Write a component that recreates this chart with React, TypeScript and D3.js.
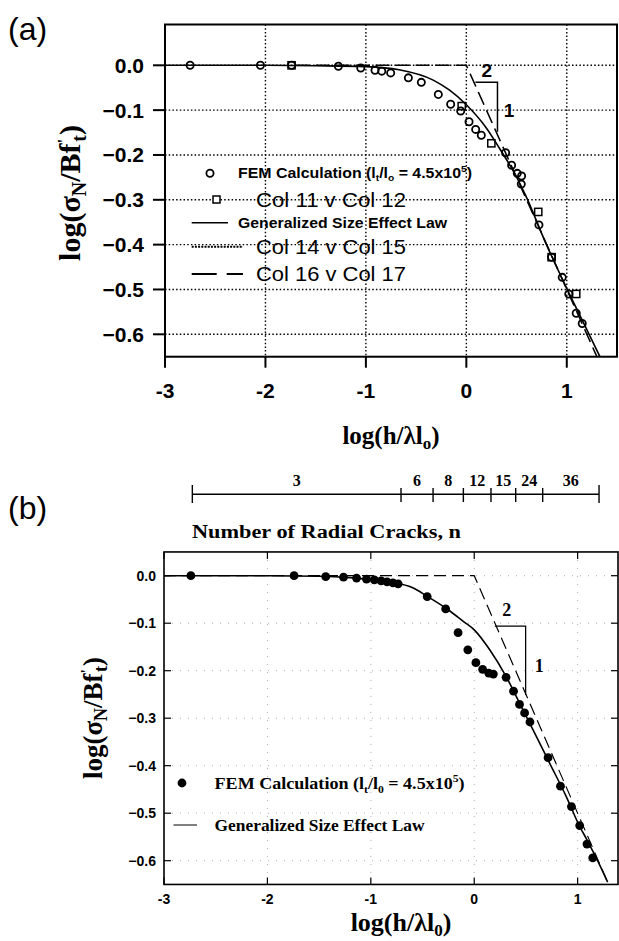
import React from 'react';
import * as d3 from 'd3';

const W = 619, H = 941;

// ---------- Panel (a) data ----------
const aXTicks = [-3, -2, -1, 0, 1];
const aYTicks = [0, -0.1, -0.2, -0.3, -0.4, -0.5, -0.6];
const aGridX = [-2, -1, 0, 1];
const aCurveX = [-3, -2, -1.5, -1.0, -0.67, -0.33, -0.17, 0, 0.19, 0.33, 0.49, 0.59, 0.79, 0.99, 1.19, 1.33];
const aCurveY = [0, 0, -0.001, -0.003, -0.01, -0.033, -0.055, -0.088, -0.137, -0.185, -0.245, -0.29, -0.396, -0.493, -0.585, -0.65];
const aCircleX = [-2.75, -2.05, -1.74, -1.274, -1.051, -0.909, -0.842, -0.753, -0.577, -0.448, -0.279, -0.156, -0.056, 0.027, 0.093, 0.149, 0.391, 0.451, 0.507, 0.55, 0.547, 0.723, 0.849, 0.955, 1.02, 1.094, 1.154];
const aCircleY = [0, 0, 0, -0.002, -0.006, -0.011, -0.013, -0.017, -0.028, -0.038, -0.065, -0.087, -0.102, -0.126, -0.143, -0.156, -0.195, -0.223, -0.241, -0.247, -0.265, -0.356, -0.428, -0.473, -0.51, -0.553, -0.576];
const aSquareX = [-1.74, -0.046, 0.249, 0.716, 0.849, 1.094];
const aSquareY = [0, -0.091, -0.174, -0.327, -0.428, -0.51];
const aAsymX = [-1.7, 0, 1.35];
const aAsymY = [0, 0, -0.675];
const aTriX = [0.09, 0.31, 0.31];
const aTriY = [-0.038, -0.038, -0.148];

// ---------- Panel (b) data ----------
const bXTicks = [-3, -2, -1, 0, 1];
const bYTicks = [0, -0.1, -0.2, -0.3, -0.4, -0.5, -0.6];
const bCurveX = [-3, -2, -1.5, -1.2, -1.0, -0.8, -0.6, -0.45, -0.27, -0.1, 0.0, 0.15, 0.31, 0.44, 0.57, 0.73, 0.89, 1.02, 1.09, 1.2, 1.29];
const bCurveY = [0, 0, -0.001, -0.004, -0.008, -0.014, -0.025, -0.044, -0.069, -0.097, -0.114, -0.156, -0.213, -0.269, -0.325, -0.395, -0.465, -0.528, -0.556, -0.603, -0.645];
const bFemX = [-2.74, -1.742, -1.436, -1.264, -1.138, -1.042, -0.966, -0.9, -0.843, -0.786, -0.736, -0.455, -0.276, -0.156, -0.062, 0.016, 0.081, 0.14, 0.185, 0.308, 0.38, 0.438, 0.487, 0.539, 0.714, 0.834, 0.94, 1.02, 1.09, 1.146];
const bFemY = [0, 0, -0.002, -0.003, -0.005, -0.007, -0.009, -0.011, -0.013, -0.015, -0.017, -0.044, -0.07, -0.12, -0.156, -0.183, -0.197, -0.205, -0.207, -0.214, -0.243, -0.271, -0.289, -0.308, -0.383, -0.443, -0.486, -0.526, -0.565, -0.594];
const bAsymX = [-3, 0, 1.35];
const bAsymY = [0, 0, -0.675];
const bTriX = [0.2, 0.497, 0.497];
const bTriY = [-0.106, -0.106, -0.251];
const crackBounds = [-2.726, -0.708, -0.398, -0.105, 0.162, 0.401, 0.662, 1.207];
const crackLabels = ['3', '6', '8', '12', '15', '24', '36'];

const fmt = (v: number) => (v === 0 ? '0.0' : d3.format('.1f')(v));
const SANS = "'Liberation Sans', Arial, sans-serif";
const SERIF = "'Liberation Serif', 'Times New Roman', serif";

export default function App() {
  // Panel (a) scales
  const ax = d3.scaleLinear().domain([-3, 1.5]).range([165, 617]);
  const ay = d3.scaleLinear().domain([0, -0.6]).range([65.3, 334.3]);
  const aTop = ay(0.091), aBot = ay(-0.65);
  // Panel (b) scales
  const bx = d3.scaleLinear().domain([-3, 1.4]).range([164, 619]);
  const by = d3.scaleLinear().domain([0, -0.6]).range([575.7, 860.7]);
  const bTop = by(0.05), bBot = by(-0.65);
  const bRight = bx(1.4) - 1;

  const aLine = d3.line<number>().x((d) => ax(aCurveX[d])).y((d) => ay(aCurveY[d])).curve(d3.curveMonotoneX);
  const bLine = d3.line<number>().x((d) => bx(bCurveX[d])).y((d) => by(bCurveY[d])).curve(d3.curveMonotoneX);
  const aAsym = d3.line<number>().x((d) => ax(aAsymX[d])).y((d) => ay(aAsymY[d]));
  const bAsym = d3.line<number>().x((d) => bx(bAsymX[d])).y((d) => by(bAsymY[d]));
  const aTri = d3.line<number>().x((d) => ax(aTriX[d])).y((d) => ay(aTriY[d]));
  const bTri = d3.line<number>().x((d) => bx(bTriX[d])).y((d) => by(bTriY[d]));
  const idx = (n: number) => d3.range(n);

  const dot = '1.5,2.2';

  return (
    <svg width={W} height={H} style={{ position: 'absolute', left: 0, top: 0, background: '#fff' }}>
      <defs>
        <clipPath id="clipA"><rect x={ax(-3)} y={aTop} width={ax(1.5) - ax(-3)} height={aBot - aTop} /></clipPath>
        <clipPath id="clipB"><rect x={bx(-3)} y={bTop} width={bRight - bx(-3)} height={bBot - bTop} /></clipPath>
      </defs>
      <rect x={0} y={0} width={W} height={H} fill="#fff" />

      {/* ================= Panel (a) ================= */}
      <text x={8} y={40} fontFamily={SANS} fontSize={32}>(a)</text>
      {/* grid */}
      <g stroke="#000" strokeWidth={1.4} strokeDasharray={dot}>
        {aYTicks.map((t) => <line key={'agy' + t} x1={ax(-3)} x2={ax(1.5)} y1={ay(t)} y2={ay(t)} />)}
        {aGridX.map((t) => <line key={'agx' + t} x1={ax(t)} x2={ax(t)} y1={aTop} y2={aBot} />)}
      </g>
      {/* frame */}
      <rect x={ax(-3)} y={aTop} width={ax(1.5) - ax(-3)} height={aBot - aTop} fill="none" stroke="#000" strokeWidth={2} />
      {/* ticks */}
      <g stroke="#000" strokeWidth={2}>
        {aYTicks.map((t) => <line key={'aty' + t} x1={ax(-3) - 12} x2={ax(-3)} y1={ay(t)} y2={ay(t)} />)}
        {aXTicks.map((t) => <line key={'atx' + t} x1={ax(t)} x2={ax(t)} y1={aBot} y2={aBot + 11} />)}
      </g>
      <g fontFamily={SANS} fontWeight="bold" fontSize={21} fill="#000">
        {aYTicks.map((t) => <text key={'aly' + t} x={144} y={ay(t) + 7.5} textAnchor="end">{fmt(t)}</text>)}
        {aXTicks.map((t) => <text key={'alx' + t} x={ax(t)} y={398} textAnchor="middle">{t}</text>)}
      </g>
      {/* axis titles */}
      <text x={391} y={444} textAnchor="middle" fontFamily={SERIF} fontWeight="bold" fontSize={25}>
        log(h/λl<tspan fontSize={17} dy={5}>o</tspan><tspan dy={-5}>)</tspan>
      </text>
      <text transform="translate(80,193) rotate(-90)" textAnchor="middle" fontFamily={SERIF} fontWeight="bold" fontSize={30}>
        log(σ<tspan fontSize={20} dy={6}>N</tspan><tspan dy={-6}>/Bf</tspan><tspan fontSize={17} dy={-11}>'</tspan><tspan fontSize={20} dy={17} dx={-3}>t</tspan><tspan dy={-6}>)</tspan>
      </text>

      <g clipPath="url(#clipA)">
        <path d={aAsym(idx(aAsymX.length)) || ''} fill="none" stroke="#000" strokeWidth={1.6} strokeDasharray="14,6" />
        <path d={aLine(idx(aCurveX.length)) || ''} fill="none" stroke="#000" strokeWidth={1.6} />
        <path d={aTri(idx(aTriX.length)) || ''} fill="none" stroke="#000" strokeWidth={1.5} />
        {aCircleX.map((x, i) => <circle key={'ac' + i} cx={ax(x)} cy={ay(aCircleY[i])} r={3.6} fill="none" stroke="#000" strokeWidth={1.8} />)}
        {aSquareX.map((x, i) => <rect key={'as' + i} x={ax(x) - 3.6} y={ay(aSquareY[i]) - 3.6} width={7.2} height={7.2} fill="none" stroke="#000" strokeWidth={1.5} />)}
      </g>
      <text x={486.7} y={77} textAnchor="middle" fontFamily={SANS} fontWeight="bold" fontSize={19}>2</text>
      <text x={509} y={117} textAnchor="middle" fontFamily={SANS} fontWeight="bold" fontSize={19}>1</text>

      {/* legend (a) */}
      <circle cx={210} cy={173.3} r={3.6} fill="#fff" stroke="#000" strokeWidth={1.8} />
      <text x={238} y={178} fontFamily={SANS} fontWeight="bold" fontSize={14} textLength={234} lengthAdjust="spacingAndGlyphs">
        FEM Calculation (l<tspan fontSize={9} dy={3}>t</tspan><tspan dy={-3}>/l</tspan><tspan fontSize={9} dy={3}>o</tspan><tspan dy={-3}> = 4.5x10</tspan><tspan fontSize={9} dy={-6}>5</tspan><tspan dy={6}>)</tspan>
      </text>
      <rect x={213} y={196} width={7} height={7} fill="#fff" stroke="#000" strokeWidth={1.5} />
      <text x={256} y={207} fontFamily={SANS} fontSize={21} textLength={150} lengthAdjust="spacingAndGlyphs">Col 11 v Col 12</text>
      <line x1={191.7} x2={228} y1={222.7} y2={222.7} stroke="#000" strokeWidth={1.6} />
      <text x={238} y={227.5} fontFamily={SANS} fontWeight="bold" fontSize={14} textLength={209} lengthAdjust="spacingAndGlyphs">Generalized Size Effect Law</text>
      <line x1={191.7} x2={243} y1={246.8} y2={246.8} stroke="#000" strokeWidth={2} strokeDasharray="2,1.2" />
      <text x={256} y={254} fontFamily={SANS} fontSize={21} textLength={150} lengthAdjust="spacingAndGlyphs">Col 14 v Col 15</text>
      <line x1={191.7} x2={243} y1={274} y2={274} stroke="#000" strokeWidth={1.8} strokeDasharray="25,10" />
      <text x={256} y={281} fontFamily={SANS} fontSize={21} textLength={150} lengthAdjust="spacingAndGlyphs">Col 16 v Col 17</text>

      {/* ================= Panel (b) ================= */}
      <text x={8} y={519} fontFamily={SANS} fontSize={32}>(b)</text>
      {/* crack scale */}
      <g stroke="#000" strokeWidth={1.4}>
        <line x1={bx(crackBounds[0])} x2={bx(crackBounds[crackBounds.length - 1])} y1={494.3} y2={494.3} />
        {crackBounds.map((c, i) => {
          const end = i === 0 || i === crackBounds.length - 1;
          return <line key={'cb' + i} x1={bx(c)} x2={bx(c)} y1={end ? 485 : 488} y2={end ? 503 : 502} />;
        })}
      </g>
      <g fontFamily={SERIF} fontWeight="bold" fontSize={16} textAnchor="middle">
        {crackLabels.map((l, i) => (
          <text key={'cl' + i} x={(bx(crackBounds[i]) + bx(crackBounds[i + 1])) / 2} y={486}>{l}</text>
        ))}
      </g>
      <text x={192} y={538} fontFamily={SERIF} fontWeight="bold" fontSize={18} textLength={269} lengthAdjust="spacingAndGlyphs">Number of Radial Cracks, n</text>

      {/* grid */}
      <g stroke="#999" strokeWidth={0.8} strokeDasharray="1,7">
        {bYTicks.map((t) => <line key={'bgy' + t} x1={bx(-3)} x2={bRight} y1={by(t)} y2={by(t)} />)}
        {[-2, -1, 0, 1].map((t) => <line key={'bgx' + t} x1={bx(t)} x2={bx(t)} y1={bTop} y2={bBot} />)}
      </g>
      <rect x={bx(-3)} y={bTop} width={bRight - bx(-3)} height={bBot - bTop} fill="none" stroke="#000" strokeWidth={1.6} />
      <g stroke="#000" strokeWidth={1.2}>
        {bYTicks.map((t) => <line key={'bty' + t} x1={bx(-3)} x2={bx(-3) + 7} y1={by(t)} y2={by(t)} />)}
        {bYTicks.map((t) => <line key={'btyr' + t} x1={bRight - 7} x2={bRight} y1={by(t)} y2={by(t)} />)}
        {bXTicks.map((t) => <line key={'btx' + t} x1={bx(t)} x2={bx(t)} y1={bBot} y2={bBot - 7} />)}
        {bXTicks.map((t) => <line key={'btxt' + t} x1={bx(t)} x2={bx(t)} y1={bTop} y2={bTop + 7} />)}
      </g>
      <g fontFamily={SANS} fontWeight="bold" fontSize={14} fill="#000">
        {bYTicks.map((t) => <text key={'bly' + t} x={156} y={by(t) + 5} textAnchor="end">{fmt(t)}</text>)}
        {bXTicks.map((t) => <text key={'blx' + t} x={bx(t)} y={904} textAnchor="middle">{t}</text>)}
      </g>
      <text x={401} y={931} textAnchor="middle" fontFamily={SERIF} fontWeight="bold" fontSize={26}>
        log(h/λl<tspan fontSize={17} dy={5}>0</tspan><tspan dy={-5}>)</tspan>
      </text>
      <text transform="translate(102,718) rotate(-90)" textAnchor="middle" fontFamily={SERIF} fontWeight="bold" fontSize={27}>
        log(σ<tspan fontSize={18} dy={5}>N</tspan><tspan dy={-5}>/Bf</tspan><tspan fontSize={16} dy={-10}>'</tspan><tspan fontSize={18} dy={15} dx={-3}>t</tspan><tspan dy={-5}>)</tspan>
      </text>

      <g clipPath="url(#clipB)">
        <path d={bAsym(idx(bAsymX.length)) || ''} fill="none" stroke="#000" strokeWidth={1.2} strokeDasharray="12,6" />
        <path d={bLine(idx(bCurveX.length)) || ''} fill="none" stroke="#000" strokeWidth={1.6} />
        <path d={bTri(idx(bTriX.length)) || ''} fill="none" stroke="#000" strokeWidth={1.3} />
        {bFemX.map((x, i) => <circle key={'bf' + i} cx={bx(x)} cy={by(bFemY[i])} r={4.4} fill="#000" />)}
      </g>
      <text x={506.7} y={616} textAnchor="middle" fontFamily={SERIF} fontWeight="bold" fontSize={18}>2</text>
      <text x={539.3} y={672} textAnchor="middle" fontFamily={SERIF} fontWeight="bold" fontSize={18}>1</text>

      {/* legend (b) */}
      <circle cx={182} cy={783} r={4.4} fill="#000" />
      <text x={214.6} y={789} fontFamily={SERIF} fontWeight="bold" fontSize={17} textLength={250} lengthAdjust="spacingAndGlyphs">
        FEM Calculation (l<tspan fontSize={11} dy={4}>t</tspan><tspan dy={-4}>/l</tspan><tspan fontSize={11} dy={4}>0</tspan><tspan dy={-4}> = 4.5x10</tspan><tspan fontSize={11} dy={-7}>5</tspan><tspan dy={7}>)</tspan>
      </text>
      <line x1={173.5} x2={197} y1={825} y2={825} stroke="#000" strokeWidth={1} />
      <text x={214.6} y={831} fontFamily={SERIF} fontWeight="bold" fontSize={17} textLength={210} lengthAdjust="spacingAndGlyphs">Generalized Size Effect Law</text>
    </svg>
  );
}
